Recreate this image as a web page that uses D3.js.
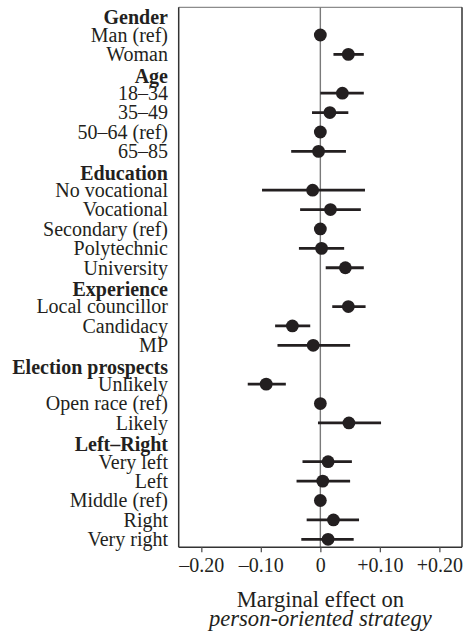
<!DOCTYPE html>
<html>
<head>
<meta charset="utf-8">
<script src="https://cdn.jsdelivr.net/npm/d3@7"></script>
<style>
  html, body { margin: 0; padding: 0; background: #fff; }
  svg { display: block; font-family: "Liberation Serif", "Times New Roman", serif; }
</style>
</head>
<body>
<svg id="chart" width="463" height="638"></svg>
<script>
// ---- data ----
const rowLabels = [
  "Gender", "Man (ref)", "Woman",
  "Age", "18–34", "35–49", "50–64 (ref)", "65–85",
  "Education", "No vocational", "Vocational", "Secondary (ref)", "Polytechnic", "University",
  "Experience", "Local councillor", "Candidacy", "MP",
  "Election prospects", "Unlikely", "Open race (ref)", "Likely",
  "Left–Right", "Very left", "Left", "Middle (ref)", "Right", "Very right"
];
const headerLabels = ["Gender", "Age", "Education", "Experience", "Election prospects", "Left–Right"];
const estimate = [
  null, 0, 0.047,
  null, 0.037, 0.016, 0, -0.003,
  null, -0.013, 0.017, 0, 0.002, 0.042,
  null, 0.047, -0.047, -0.012,
  null, -0.091, 0, 0.048,
  null, 0.013, 0.004, 0, 0.022, 0.013
];
const lower = [
  null, null, 0.022,
  null, 0.000, -0.014, null, -0.049,
  null, -0.098, -0.034, null, -0.036, 0.009,
  null, 0.020, -0.076, -0.072,
  null, -0.122, null, -0.004,
  null, -0.030, -0.040, null, -0.023, -0.032
];
const upper = [
  null, null, 0.073,
  null, 0.073, 0.047, null, 0.043,
  null, 0.075, 0.068, null, 0.040, 0.073,
  null, 0.076, -0.017, 0.050,
  null, -0.058, null, 0.102,
  null, 0.053, 0.050, null, 0.065, 0.056
];
const tickValues = [-0.2, -0.1, 0, 0.1, 0.2];
const tickLabels = ["–0.20", "–0.10", "0", "+0.10", "+0.20"];
const titleLine1 = "Marginal effect on";
const titleLine2 = "person-oriented strategy";

// ---- layout ----
const pL = 178.7, pR = 462, pT = 7.3, pB = 547.3;
const ink = "#231f20";

const svg = d3.select("#chart");

const x = d3.scaleLinear().domain([-0.238, 0.238]).range([pL, pR]);
const y = d3.scalePoint().domain(d3.range(rowLabels.length)).range([pT + 8.3, pB - 8]);

const rows = rowLabels.map((label, i) => ({
  label, i,
  header: headerLabels.includes(label),
  est: estimate[i], lo: lower[i], hi: upper[i]
}));

// frame
svg.append("line").attr("x1", pL).attr("x2", pR).attr("y1", pT).attr("y2", pT)
  .attr("stroke", "#8c8c8c").attr("stroke-width", 1.3);
svg.append("line").attr("x1", pL).attr("x2", pL).attr("y1", pT).attr("y2", pB)
  .attr("stroke", "#333").attr("stroke-width", 1.5);
svg.append("line").attr("x1", pR).attr("x2", pR).attr("y1", pT).attr("y2", pB)
  .attr("stroke", "#333").attr("stroke-width", 1.5);

// zero line
svg.append("line").attr("x1", x(0)).attr("x2", x(0)).attr("y1", pT).attr("y2", pB)
  .attr("stroke", "#7a7a7a").attr("stroke-width", 1.4);

// x axis
const axis = d3.axisBottom(x)
  .tickValues(tickValues)
  .tickSize(5)
  .tickSizeOuter(0)
  .tickPadding(6)
  .tickFormat((d, i) => tickLabels[i]);
const gx = svg.append("g").attr("transform", `translate(0,${pB})`).call(axis);
gx.select(".domain").attr("stroke", "#333").attr("stroke-width", 1.5)
  .attr("d", `M${pL},0H${pR}`);
gx.selectAll(".tick line").attr("stroke", "#555").attr("stroke-width", 1.3);
gx.selectAll(".tick text")
  .attr("fill", ink)
  .attr("font-family", "'Liberation Serif', 'Times New Roman', serif")
  .attr("font-size", 20)
  .attr("dy", "0.71em");

// error bars
const pts = rows.filter(r => r.est !== null);
svg.append("g").selectAll("line")
  .data(pts.filter(r => r.lo !== null))
  .join("line")
  .attr("x1", r => x(r.lo)).attr("x2", r => x(r.hi))
  .attr("y1", r => y(r.i)).attr("y2", r => y(r.i))
  .attr("stroke", ink).attr("stroke-width", 2.8);

// points
svg.append("g").selectAll("circle")
  .data(pts)
  .join("circle")
  .attr("cx", r => x(r.est)).attr("cy", r => y(r.i))
  .attr("r", 6.4).attr("fill", ink);

// row labels
svg.append("g").selectAll("text")
  .data(rows)
  .join("text")
  .attr("x", 168)
  .attr("y", r => y(r.i))
  .attr("dy", r => r.header ? "0.44em" : "0.34em")
  .attr("text-anchor", "end")
  .attr("font-size", 20)
  .attr("font-weight", r => r.header ? "bold" : "normal")
  .attr("fill", ink)
  .text(r => r.label);

// axis title
svg.append("text").attr("x", x(0)).attr("y", 607.3)
  .attr("text-anchor", "middle").attr("font-size", 22.6).attr("fill", ink)
  .text(titleLine1);
svg.append("text").attr("x", x(0)).attr("y", 625.7)
  .attr("text-anchor", "middle").attr("font-size", 22.6).attr("font-style", "italic").attr("fill", ink)
  .text(titleLine2);
</script>
</body>
</html>
